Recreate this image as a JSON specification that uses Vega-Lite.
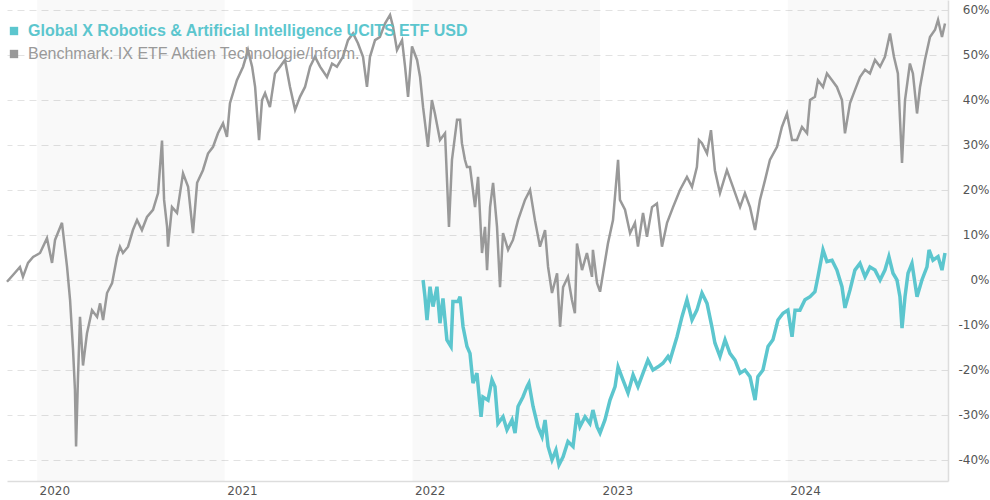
{
"$schema": "https://vega.github.io/schema/vega-lite/v6.json",
"width": 941, "height": 481,
"autosize": {"type": "none"},
"padding": {"left": 7, "top": 0, "right": 42, "bottom": 19},
"background": "white",
"config": {"view": {"stroke": null}, "font": "Liberation Sans"},
"datasets": {
"bands": [{"a": 2020, "b": 2021}, {"a": 2022, "b": 2023}, {"a": 2024, "b": 2025}],
"bench": [
{"t":2019.840,"v":-0.4},{"t":2019.872,"v":1.1},{"t":2019.909,"v":2.9},{"t":2019.925,"v":0.7},{"t":2019.952,"v":3.8},{"t":2019.979,"v":5.1},
{"t":2020.016,"v":6.0},{"t":2020.053,"v":9.3},{"t":2020.080,"v":3.8},{"t":2020.096,"v":8.9},{"t":2020.133,"v":12.7},{"t":2020.160,"v":2.9},
{"t":2020.176,"v":-4.4},{"t":2020.192,"v":-15.6},{"t":2020.202,"v":-24.4},{"t":2020.208,"v":-37.0},{"t":2020.218,"v":-22.0},{"t":2020.229,"v":-8.2},
{"t":2020.245,"v":-19.0},{"t":2020.266,"v":-11.9},{"t":2020.293,"v":-6.7},{"t":2020.320,"v":-8.2},{"t":2020.336,"v":-5.2},{"t":2020.352,"v":-8.9},
{"t":2020.373,"v":-2.9},{"t":2020.400,"v":-0.7},{"t":2020.426,"v":5.1},{"t":2020.442,"v":7.4},{"t":2020.458,"v":6.0},{"t":2020.485,"v":7.4},
{"t":2020.511,"v":11.1},{"t":2020.533,"v":13.3},{"t":2020.559,"v":11.1},{"t":2020.586,"v":14.0},{"t":2020.618,"v":15.6},{"t":2020.645,"v":19.3},
{"t":2020.666,"v":31.0},{"t":2020.677,"v":17.8},{"t":2020.693,"v":11.8},{"t":2020.698,"v":7.4},{"t":2020.719,"v":16.2},{"t":2020.746,"v":14.9},
{"t":2020.778,"v":23.7},{"t":2020.805,"v":20.7},{"t":2020.831,"v":10.4},{"t":2020.853,"v":21.6},{"t":2020.884,"v":24.4},{"t":2020.911,"v":28.1},
{"t":2020.938,"v":29.6},{"t":2020.964,"v":32.6},{"t":2020.991,"v":34.8},{"t":2021.012,"v":31.8},{"t":2021.028,"v":39.3},{"t":2021.065,"v":44.4},
{"t":2021.098,"v":47.4},{"t":2021.124,"v":51.1},{"t":2021.146,"v":47.4},{"t":2021.162,"v":42.9},{"t":2021.183,"v":31.1},{"t":2021.199,"v":40.0},
{"t":2021.215,"v":41.5},{"t":2021.241,"v":38.4},{"t":2021.268,"v":45.9},{"t":2021.295,"v":47.4},{"t":2021.321,"v":48.9},{"t":2021.348,"v":42.9},
{"t":2021.375,"v":37.8},{"t":2021.401,"v":40.7},{"t":2021.428,"v":42.9},{"t":2021.455,"v":47.4},{"t":2021.481,"v":49.6},{"t":2021.508,"v":47.4},
{"t":2021.545,"v":45.1},{"t":2021.572,"v":48.1},{"t":2021.598,"v":47.4},{"t":2021.630,"v":49.6},{"t":2021.657,"v":53.3},{"t":2021.684,"v":54.8},
{"t":2021.710,"v":52.6},{"t":2021.737,"v":49.6},{"t":2021.758,"v":42.9},{"t":2021.774,"v":49.6},{"t":2021.801,"v":53.3},{"t":2021.827,"v":54.0},
{"t":2021.854,"v":57.0},{"t":2021.881,"v":58.9},{"t":2021.897,"v":56.3},{"t":2021.918,"v":51.1},{"t":2021.945,"v":53.3},{"t":2021.961,"v":47.4},
{"t":2021.977,"v":40.7},{"t":2021.998,"v":51.9},{"t":2022.025,"v":48.9},{"t":2022.041,"v":45.1},{"t":2022.057,"v":38.4},{"t":2022.083,"v":29.6},
{"t":2022.104,"v":40.0},{"t":2022.120,"v":37.0},{"t":2022.147,"v":31.1},{"t":2022.174,"v":32.6},{"t":2022.195,"v":11.8},{"t":2022.211,"v":26.7},
{"t":2022.238,"v":35.6},{"t":2022.254,"v":35.6},{"t":2022.264,"v":30.4},{"t":2022.280,"v":26.7},{"t":2022.291,"v":25.1},{"t":2022.307,"v":25.1},
{"t":2022.334,"v":16.2},{"t":2022.350,"v":22.9},{"t":2022.371,"v":6.0},{"t":2022.387,"v":11.8},{"t":2022.398,"v":2.2},{"t":2022.414,"v":16.2},
{"t":2022.430,"v":21.6},{"t":2022.451,"v":11.8},{"t":2022.467,"v":-1.6},{"t":2022.483,"v":10.4},{"t":2022.510,"v":6.7},{"t":2022.536,"v":8.9},
{"t":2022.563,"v":13.3},{"t":2022.600,"v":17.8},{"t":2022.627,"v":20.0},{"t":2022.653,"v":13.3},{"t":2022.680,"v":7.4},{"t":2022.707,"v":11.1},
{"t":2022.723,"v":2.9},{"t":2022.744,"v":-2.9},{"t":2022.771,"v":1.5},{"t":2022.787,"v":-10.4},{"t":2022.803,"v":-1.6},{"t":2022.829,"v":0.7},
{"t":2022.850,"v":-4.4},{"t":2022.866,"v":-7.4},{"t":2022.877,"v":8.1},{"t":2022.904,"v":2.2},{"t":2022.930,"v":6.0},{"t":2022.957,"v":0.7},
{"t":2022.962,"v":6.7},{"t":2022.984,"v":-0.7},{"t":2023.000,"v":-2.6},{"t":2023.016,"v":1.5},{"t":2023.042,"v":8.1},{"t":2023.069,"v":13.3},
{"t":2023.096,"v":26.7},{"t":2023.106,"v":17.8},{"t":2023.133,"v":15.6},{"t":2023.160,"v":10.4},{"t":2023.186,"v":12.7},{"t":2023.202,"v":7.4},
{"t":2023.229,"v":14.9},{"t":2023.250,"v":9.6},{"t":2023.277,"v":16.2},{"t":2023.303,"v":17.0},{"t":2023.330,"v":7.4},{"t":2023.357,"v":12.7},
{"t":2023.389,"v":16.2},{"t":2023.426,"v":20.0},{"t":2023.463,"v":22.9},{"t":2023.490,"v":20.7},{"t":2023.516,"v":25.1},{"t":2023.527,"v":31.1},
{"t":2023.543,"v":30.4},{"t":2023.570,"v":28.1},{"t":2023.591,"v":33.3},{"t":2023.612,"v":24.4},{"t":2023.639,"v":19.3},{"t":2023.676,"v":24.4},
{"t":2023.708,"v":20.7},{"t":2023.746,"v":16.2},{"t":2023.772,"v":19.3},{"t":2023.799,"v":16.2},{"t":2023.826,"v":11.1},{"t":2023.852,"v":17.8},
{"t":2023.879,"v":22.2},{"t":2023.905,"v":26.7},{"t":2023.943,"v":29.6},{"t":2023.969,"v":34.0},{"t":2023.996,"v":37.0},{"t":2024.023,"v":31.1},
{"t":2024.049,"v":31.1},{"t":2024.076,"v":34.0},{"t":2024.103,"v":32.6},{"t":2024.119,"v":40.0},{"t":2024.145,"v":40.7},{"t":2024.161,"v":44.4},
{"t":2024.188,"v":42.9},{"t":2024.209,"v":45.9},{"t":2024.236,"v":44.4},{"t":2024.262,"v":42.9},{"t":2024.289,"v":40.0},{"t":2024.305,"v":32.6},
{"t":2024.332,"v":39.3},{"t":2024.358,"v":42.2},{"t":2024.385,"v":45.1},{"t":2024.412,"v":46.7},{"t":2024.438,"v":45.9},{"t":2024.465,"v":48.9},
{"t":2024.492,"v":47.4},{"t":2024.518,"v":49.6},{"t":2024.545,"v":54.8},{"t":2024.566,"v":49.6},{"t":2024.587,"v":45.9},{"t":2024.609,"v":26.0},
{"t":2024.625,"v":40.0},{"t":2024.651,"v":48.1},{"t":2024.667,"v":45.9},{"t":2024.689,"v":37.0},{"t":2024.705,"v":42.9},{"t":2024.731,"v":48.9},
{"t":2024.758,"v":54.0},{"t":2024.785,"v":55.6},{"t":2024.801,"v":57.8},{"t":2024.822,"v":54.0},{"t":2024.838,"v":57.0}
],
"fund": [
{"t":2022.057,"v":0.0},{"t":2022.067,"v":-3.7},{"t":2022.078,"v":-8.9},{"t":2022.094,"v":-1.5},{"t":2022.110,"v":-5.9},{"t":2022.131,"v":-1.5},
{"t":2022.147,"v":-9.6},{"t":2022.163,"v":-4.1},{"t":2022.184,"v":-13.3},{"t":2022.206,"v":-14.8},{"t":2022.216,"v":-4.8},{"t":2022.243,"v":-4.8},
{"t":2022.254,"v":-3.7},{"t":2022.270,"v":-10.4},{"t":2022.291,"v":-14.8},{"t":2022.307,"v":-16.3},{"t":2022.323,"v":-22.9},{"t":2022.344,"v":-20.7},
{"t":2022.366,"v":-30.4},{"t":2022.376,"v":-26.0},{"t":2022.403,"v":-26.7},{"t":2022.424,"v":-22.2},{"t":2022.440,"v":-23.7},{"t":2022.456,"v":-31.9},
{"t":2022.483,"v":-30.4},{"t":2022.504,"v":-33.3},{"t":2022.531,"v":-31.1},{"t":2022.547,"v":-34.0},{"t":2022.563,"v":-28.1},{"t":2022.589,"v":-26.0},
{"t":2022.611,"v":-23.7},{"t":2022.621,"v":-22.9},{"t":2022.643,"v":-28.1},{"t":2022.669,"v":-32.6},{"t":2022.691,"v":-34.8},{"t":2022.707,"v":-31.1},
{"t":2022.723,"v":-37.0},{"t":2022.744,"v":-40.0},{"t":2022.765,"v":-37.8},{"t":2022.781,"v":-41.1},{"t":2022.803,"v":-39.3},{"t":2022.829,"v":-35.9},
{"t":2022.856,"v":-37.0},{"t":2022.877,"v":-29.6},{"t":2022.893,"v":-32.6},{"t":2022.920,"v":-30.4},{"t":2022.946,"v":-31.9},{"t":2022.962,"v":-28.9},
{"t":2022.984,"v":-32.6},{"t":2023.000,"v":-34.0},{"t":2023.026,"v":-31.1},{"t":2023.053,"v":-26.7},{"t":2023.080,"v":-23.7},{"t":2023.096,"v":-19.3},
{"t":2023.122,"v":-22.2},{"t":2023.149,"v":-25.1},{"t":2023.176,"v":-21.1},{"t":2023.202,"v":-23.7},{"t":2023.229,"v":-20.7},{"t":2023.255,"v":-17.8},
{"t":2023.282,"v":-20.0},{"t":2023.309,"v":-19.3},{"t":2023.335,"v":-18.5},{"t":2023.362,"v":-17.0},{"t":2023.373,"v":-17.8},{"t":2023.410,"v":-12.6},
{"t":2023.437,"v":-8.1},{"t":2023.463,"v":-4.4},{"t":2023.490,"v":-8.9},{"t":2023.516,"v":-6.7},{"t":2023.543,"v":-2.9},{"t":2023.570,"v":-5.2},
{"t":2023.596,"v":-10.4},{"t":2023.612,"v":-14.0},{"t":2023.639,"v":-17.0},{"t":2023.666,"v":-13.3},{"t":2023.692,"v":-16.3},{"t":2023.719,"v":-17.8},
{"t":2023.746,"v":-20.7},{"t":2023.772,"v":-20.0},{"t":2023.799,"v":-21.5},{"t":2023.826,"v":-26.7},{"t":2023.841,"v":-21.5},{"t":2023.868,"v":-20.0},
{"t":2023.895,"v":-14.8},{"t":2023.921,"v":-13.3},{"t":2023.948,"v":-8.9},{"t":2023.975,"v":-7.4},{"t":2024.001,"v":-6.7},{"t":2024.023,"v":-12.6},
{"t":2024.039,"v":-6.7},{"t":2024.065,"v":-6.7},{"t":2024.092,"v":-4.4},{"t":2024.119,"v":-3.7},{"t":2024.145,"v":-2.6},{"t":2024.161,"v":0.7},
{"t":2024.188,"v":6.7},{"t":2024.209,"v":4.1},{"t":2024.236,"v":4.4},{"t":2024.262,"v":2.2},{"t":2024.289,"v":-1.5},{"t":2024.305,"v":-6.2},
{"t":2024.332,"v":-2.2},{"t":2024.358,"v":2.2},{"t":2024.385,"v":3.7},{"t":2024.412,"v":0.7},{"t":2024.438,"v":2.9},{"t":2024.465,"v":2.2},
{"t":2024.492,"v":0.0},{"t":2024.518,"v":2.2},{"t":2024.539,"v":5.2},{"t":2024.561,"v":1.5},{"t":2024.582,"v":0.0},{"t":2024.598,"v":-3.7},
{"t":2024.609,"v":-10.7},{"t":2024.625,"v":-3.7},{"t":2024.641,"v":1.5},{"t":2024.662,"v":3.7},{"t":2024.689,"v":-3.7},{"t":2024.715,"v":0.0},
{"t":2024.742,"v":2.9},{"t":2024.753,"v":6.7},{"t":2024.774,"v":4.4},{"t":2024.801,"v":5.2},{"t":2024.822,"v":2.2},{"t":2024.838,"v":6.0}
]
},
"layer": [
{
"data": {"name": "bands"},
"mark": {"type": "rect", "color": "#000000", "opacity": 0.025, "clip": true},
"encoding": {
"x": {"field": "a", "type": "quantitative",
"scale": {"domain": [2019.84, 2024.854], "nice": false, "zero": false},
"axis": {"values": [2020, 2021, 2022, 2023, 2024], "format": "d", "title": null, "grid": false, "ticks": false,
"labelAlign": "left", "labelOffset": 2, "labelFont": "DejaVu Sans", "labelFontSize": 12, "labelColor": "#555555",
"labelPadding": 4, "labelFlush": false, "domainColor": "#dddddd", "domainWidth": 1.5}},
"x2": {"field": "b"}
}
},
{
"data": {"name": "bench"},
"mark": {"type": "line", "strokeWidth": 2.5, "strokeJoin": "miter"},
"encoding": {
"x": {"field": "t", "type": "quantitative"},
"y": {"field": "v", "type": "quantitative",
"scale": {"domain": [-44.67, 62.22], "nice": false, "zero": false},
"axis": {"orient": "right", "values": [-40, -30, -20, -10, 0, 10, 20, 30, 40, 50, 60], "labelExpr": "datum.value + '%'",
"title": null, "ticks": false, "grid": true, "gridDash": [7, 5], "gridColor": "#e2e2e2", "gridWidth": 1,
"labelAlign": "right", "labelPadding": 41, "labelFont": "DejaVu Sans", "labelFontSize": 12, "labelColor": "#555555",
"domainColor": "#dddddd", "domainWidth": 1.5}},
"color": {"datum": "Benchmark: IX ETF Aktien Technologie/Inform.", "type": "nominal",
"scale": {"domain": ["Global X Robotics & Artificial Intelligence UCITS ETF USD", "Benchmark: IX ETF Aktien Technologie/Inform."],
"range": ["#5cc6ce", "#999999"]},
"legend": {"orient": "none", "legendX": -1, "legendY": 23, "title": null, "symbolType": "square", "symbolSize": 70,
"labelFont": "Liberation Sans", "labelFontSize": 16, "labelOffset": 6, "labelLimit": 700, "rowPadding": 7, "padding": 0, "zindex": 0,
"symbolStrokeWidth": 0,
"encode": {
"symbols": {"update": {"fill": {"signal": "datum.value === 'Benchmark: IX ETF Aktien Technologie/Inform.' ? '#999999' : '#5cc6ce'"}, "strokeWidth": {"value": 0}}},
"labels": {"update": {"fill": {"signal": "datum.value === 'Benchmark: IX ETF Aktien Technologie/Inform.' ? '#999999' : '#5cc6ce'"},
"fontWeight": {"signal": "datum.value === 'Benchmark: IX ETF Aktien Technologie/Inform.' ? 'normal' : 'bold'"}}}
}}}
}
},
{
"data": {"name": "fund"},
"mark": {"type": "line", "strokeWidth": 3.5, "strokeJoin": "miter"},
"encoding": {
"x": {"field": "t", "type": "quantitative"},
"y": {"field": "v", "type": "quantitative"},
"color": {"datum": "Global X Robotics & Artificial Intelligence UCITS ETF USD", "type": "nominal"}
}
}
]
}
